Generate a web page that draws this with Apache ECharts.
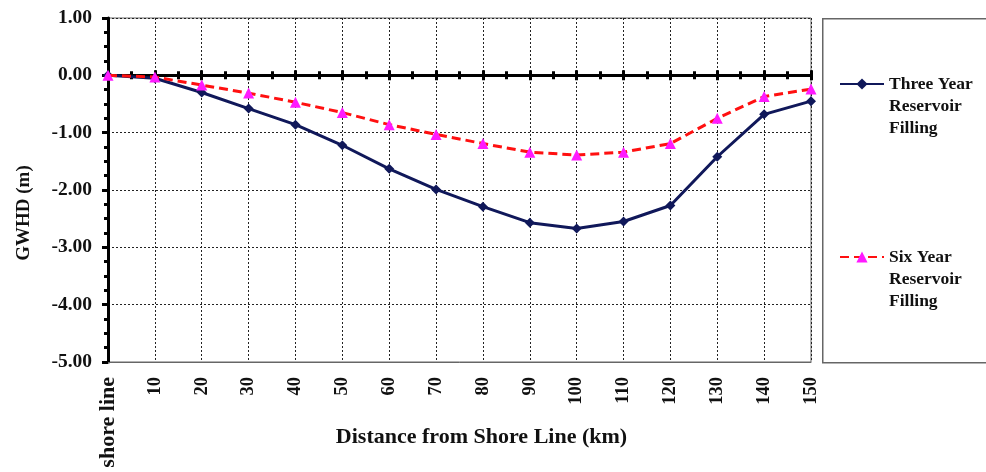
<!DOCTYPE html>
<html>
<head>
<meta charset="utf-8">
<script src="https://cdn.jsdelivr.net/npm/echarts@6/dist/echarts.min.js"></script>
<style>
html,body{margin:0;padding:0;background:#fff;}
#chart{width:986px;height:472px;}
</style>
</head>
<body>
<div id="chart"></div>
<script>
var distances = [0, 10, 20, 30, 40, 50, 60, 70, 80, 90, 100, 110, 120, 130, 140, 150];
var tickLabels = ['shore line', '10', '20', '30', '40', '50', '60', '70', '80', '90', '100', '110', '120', '130', '140', '150'];
var threeYear = [0.00, -0.05, -0.30, -0.58, -0.86, -1.22, -1.63, -1.99, -2.29, -2.57, -2.67, -2.55, -2.27, -1.42, -0.68, -0.45];
var sixYear = [0.00, -0.03, -0.17, -0.31, -0.47, -0.65, -0.86, -1.03, -1.19, -1.34, -1.39, -1.34, -1.19, -0.75, -0.37, -0.24];
var seriesNames = ['Three Year\nReservoir\nFilling', 'Six Year\nReservoir\nFilling'];

function pairs(vals) { return distances.map(function (d, i) { return [d, vals[i]]; }); }

var FONT = '"Liberation Serif", "Times New Roman", serif';
var chart = echarts.init(document.getElementById('chart'), null, {renderer: 'canvas'});

var zeroAxisBase = {
  type: 'value', min: 0, max: 150, interval: 10,
  axisLine: {onZero: true, onZeroAxisIndex: 0, lineStyle: {color: '#000', width: 3}},
  axisTick: {show: true, length: 5, lineStyle: {color: '#000', width: 3}},
  minorTick: {show: true, splitNumber: 2, length: 4, lineStyle: {color: '#000', width: 3}},
  axisLabel: {show: false},
  splitLine: {show: false}
};

chart.setOption({
  animation: false,
  backgroundColor: '#fff',
  grid: {left: 108, right: 175, top: 18, bottom: 110, containLabel: false, outerBoundsMode: 'none',
    show: true, borderColor: '#666', borderWidth: 1, backgroundColor: 'transparent'},
  graphic: [{
    type: 'rect', left: 822, top: 18, z: 0,
    shape: {width: 170, height: 344},
    style: {fill: '#fff', stroke: '#666', lineWidth: 1.5}
  }],
  legend: {
    orient: 'vertical', left: 834, top: 24, itemGap: 63,
    itemWidth: 44, itemHeight: 14,
    data: seriesNames,
    formatter: function (name) { return '\n\n' + name; },
    textStyle: {fontFamily: FONT, fontWeight: 'bold', fontSize: 17.5, color: '#111', lineHeight: 22},
    z: 5
  },
  xAxis: [
    {
      type: 'value', min: 0, max: 150, interval: 10, position: 'bottom',
      axisLine: {onZero: false, show: true, lineStyle: {color: '#666', width: 1}},
      axisTick: {show: false},
      axisLabel: {
        rotate: 90, fontFamily: FONT, fontWeight: 'bold', fontSize: 18.5, color: '#111', margin: 15,
        formatter: function (v) {
          var i = distances.indexOf(v);
          if (i < 0) return '';
          return i === 0 ? '{w|' + tickLabels[i] + '}' : tickLabels[i];
        },
        rich: {w: {fontFamily: FONT, fontWeight: 'bold', fontSize: 22, color: '#111'}}
      },
      splitLine: {show: true, lineStyle: {color: '#222', type: [2, 2], width: 1}},
      name: 'Distance from Shore Line (km)', nameLocation: 'middle', nameGap: 64, nameMoveOverlap: false,
      nameTextStyle: {fontFamily: FONT, fontWeight: 'bold', fontSize: 22, color: '#111', padding: [0, 0, 0, 44]}
    },
    Object.assign({}, zeroAxisBase, {position: 'top'}),
    Object.assign({}, zeroAxisBase, {position: 'bottom'})
  ],
  yAxis: {
    type: 'value', min: -5, max: 1, interval: 1,
    axisLine: {show: true, onZero: false, lineStyle: {color: '#000', width: 3}},
    axisTick: {show: true, length: 6, lineStyle: {color: '#000', width: 3}},
    minorTick: {show: true, splitNumber: 4, length: 4, lineStyle: {color: '#000', width: 3}},
    axisLabel: {fontFamily: FONT, fontWeight: 'bold', fontSize: 19.5, color: '#111', margin: 16,
      formatter: function (v) { return v.toFixed(2); }},
    splitLine: {show: true, lineStyle: {color: '#222', type: [2, 2], width: 1}},
    name: 'GWHD (m)', nameLocation: 'middle', nameGap: 74, nameMoveOverlap: false,
    nameTextStyle: {fontFamily: FONT, fontWeight: 'bold', fontSize: 19, color: '#111', padding: [0, 46, 0, 0], align: 'center'},
    nameRotate: 90
  },
  series: [
    {
      name: seriesNames[0], type: 'line', xAxisIndex: 0, data: pairs(threeYear),
      symbol: 'diamond', symbolSize: 10, z: 3,
      lineStyle: {color: '#10185a', width: 3},
      itemStyle: {color: '#10185a'}
    },
    {
      name: seriesNames[1], type: 'line', xAxisIndex: 0, data: pairs(sixYear),
      symbol: 'triangle', symbolSize: 11, z: 4,
      lineStyle: {color: '#ff1010', width: 3, type: [9, 5]},
      itemStyle: {color: '#ff1aff'}
    }
  ]
});
</script>
</body>
</html>
